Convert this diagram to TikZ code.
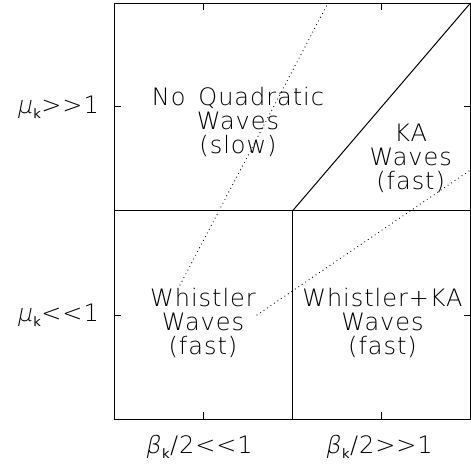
\documentclass[tikz,border=0pt]{standalone}
\usepackage{fontspec}
\IfFontExistsTF{DejaVu Sans ExtraLight}{%
  \setmainfont{DejaVu Sans ExtraLight}[LetterSpace=4,WordSpace=1.5]
  \newfontfamily\greekit{DejaVu Sans ExtraLight}[FakeSlant=0.2]
}{%
  \setmainfont{DejaVu Sans}[LetterSpace=4,WordSpace=1.5]
  \newfontfamily\greekit{DejaVu Sans Oblique}
}
\newfontfamily\subfont{DejaVu Sans}
\newcommand{\subk}{\kern1.5pt\raisebox{-0.4ex}{\subfont\fontsize{13}{13}\selectfont k}\kern0.5pt}
\begin{document}
\begin{tikzpicture}[x=1pt,y=-1pt,
  frame/.style={draw=black,line width=1pt},
  dotline/.style={draw=black,line width=1.2pt,line cap=round,dash pattern=on 0pt off 4.2pt},
  lbl/.style={font=\fontsize{24}{25}\selectfont,inner sep=0pt,align=center},
  axl/.style={font=\fontsize{24}{25}\selectfont,inner sep=0pt}]
\useasboundingbox (0,0) rectangle (471,472);
% frame corners
\coordinate (tl) at (114,3);
\coordinate (tr) at (470.5,3);
\coordinate (bl) at (114,419);
\coordinate (br) at (470.5,419);
\coordinate (ml) at (114,210.7);
\coordinate (mr) at (470.5,210.7);
\coordinate (mc) at (292.7,210.7);
\coordinate (bc) at (292.7,419);
\draw[frame] (tl) rectangle (br);
\draw[frame] (ml) -- (mr);
\draw[frame] (mc) -- (bc);
\draw[frame] (mc) -- (tr);
% ticks
\foreach \x in {203,381.7}{
  \draw[frame] (\x,419) -- (\x,412);
  \draw[frame] (\x,3) -- (\x,10);
}
\foreach \y in {106.7,315}{
  \draw[frame] (114,\y) -- (121,\y);
  \draw[frame] (470.5,\y) -- (463.5,\y);
}
% dotted lines
\coordinate (d1a) at (180,285);
\coordinate (d1b) at (328,3);
\coordinate (d2a) at (257,315);
\coordinate (d2b) at (470.5,170);
\draw[dotline] (d1a) -- (d1b);
\draw[dotline] (d2a) -- (d2b);
% region labels
\node[lbl] (nq) at (238,122) {No Quadratic\\[-1pt]Waves\\[-1pt](slow)};
\node[lbl] (ka) at (410.7,158) {KA\\[-1pt]Waves\\[-1pt](fast)};
\node[lbl] (wh) at (203,323) {Whistler\\[-1pt]Waves\\[-1pt](fast)};
\node[lbl] (wk) at (382.5,323) {Whistler+KA\\[-1pt]Waves\\[-1pt](fast)};
% axis labels
\node[axl,anchor=east] (mu1) at (99,107) {{\greekit μ}\subk>{}>1};
\node[axl,anchor=east] (mu2) at (99,315) {{\greekit μ}\subk<{}<1};
\node[axl] (b1) at (199,447) {{\greekit β}\subk/2<{}<1};
\node[axl] (b2) at (379,447) {{\greekit β}\subk/2>{}>1};
\end{tikzpicture}
\end{document}
